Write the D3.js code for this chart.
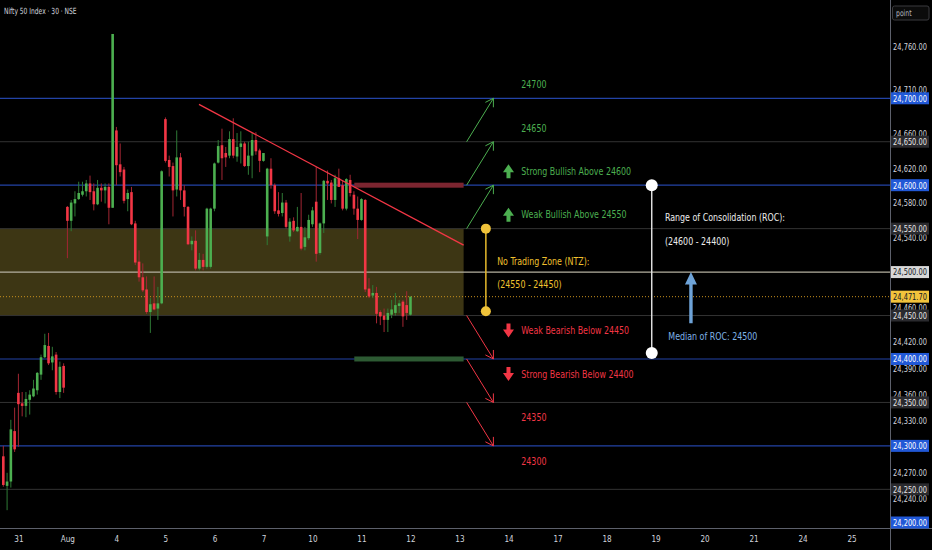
<!DOCTYPE html>
<html>
<head>
<meta charset="utf-8">
<script src="https://cdn.jsdelivr.net/npm/d3@7"></script>
<style>
  html, body { margin: 0; padding: 0; background: #000; overflow: hidden; }
  svg { display: block; }
  text { font-family: "Liberation Sans Narrow", "DejaVu Sans Condensed", "Roboto Condensed", "Arial Narrow", "Liberation Sans", sans-serif; }
</style>
</head>
<body>
<div id="chart"></div>
<script>
// 30 min bars, Jul 30 (last bars) .. Aug 11
var opens  = [24288,24254,24259,24317,24361,24349,24346,24353,24357,24364,24382,24402,24415,24396,24405,24362,24392,
              24575,24559,24579,24584,24589,24593,24602,24593,24578,24597,24594,24598,
              24574,24663,24624,24618,24584,24592,24556,24512,24494,24480,24454,24464,24458,
              24464,24676,24629,24622,24595,24632,24594,24575,24532,24536,24504,24514,24506,
              24506,24573,24626,24646,24637,24634,24653,24633,24644,24648,24622,24634,24652,24640,24628,
              24541,24619,24600,24571,24568,24580,24541,24559,24547,24552,24529,24539,24555,
              24581,24522,24556,24605,24603,24583,24608,24600,24573,24606,24589,24573,24560,
              24583,24481,24473,24476,24454,24450,24445,24451,24453,24461,24466,24462,24451];
var highs  = [24300,24269,24330,24344,24383,24362,24362,24364,24376,24385,24405,24429,24430,24414,24408,24397,24395,
              24576,24583,24593,24604,24604,24606,24611,24602,24606,24602,24602,24602,
              24774,24667,24648,24621,24595,24598,24559,24525,24510,24495,24470,24495,24483,
              24617,24678,24634,24626,24663,24637,24600,24576,24541,24548,24522,24521,24574,
              24574,24626,24652,24665,24644,24662,24677,24660,24662,24650,24650,24660,24661,24642,24637,
              24620,24631,24602,24592,24591,24583,24562,24563,24575,24591,24552,24566,24575,
              24621,24557,24606,24617,24606,24612,24619,24606,24608,24612,24593,24587,24585,
              24584,24493,24485,24483,24456,24458,24458,24468,24476,24468,24468,24478,24472];
var lows   = [24253,24226,24252,24293,24299,24334,24333,24336,24356,24359,24376,24401,24393,24387,24359,24355,24361,
              24516,24547,24564,24583,24587,24587,24583,24571,24577,24581,24579,24555,
              24574,24600,24610,24579,24570,24554,24508,24489,24477,24452,24430,24456,24445,
              24463,24626,24610,24564,24587,24583,24564,24531,24525,24502,24502,24502,24504,
              24504,24570,24625,24606,24621,24631,24631,24627,24625,24621,24612,24608,24635,24615,24627,
              24531,24596,24567,24564,24564,24550,24535,24546,24546,24525,24525,24537,24552,
              24512,24520,24545,24583,24579,24575,24598,24571,24571,24587,24566,24538,24559,
              24477,24470,24470,24441,24439,24431,24431,24447,24450,24453,24437,24445,24450];
var closes = [24255,24259,24319,24296,24348,24346,24354,24359,24366,24384,24402,24416,24395,24403,24362,24391,24367,
              24559,24580,24584,24591,24593,24602,24592,24578,24597,24594,24598,24574,
              24774,24623,24615,24582,24591,24555,24511,24494,24479,24454,24463,24457,24464,
              24616,24628,24621,24594,24632,24594,24575,24532,24536,24504,24514,24506,24573,
              24573,24625,24645,24631,24632,24653,24634,24644,24648,24622,24634,24652,24639,24628,24637,
              24619,24600,24570,24567,24580,24552,24558,24548,24552,24527,24540,24560,24571,
              24521,24556,24605,24602,24583,24608,24598,24573,24607,24591,24573,24560,24584,
              24480,24472,24476,24452,24449,24445,24453,24457,24462,24464,24449,24453,24471.7];

var dayLabels   = ["31", "Aug", "4", "5", "6", "7", "10", "11", "12", "13", "14", "17", "18", "19", "20", "21", "24", "25"];
var dayTickBars = [4, 17, 30, 43, 56, 69, 82, 95, 108, 121, 134, 147, 160, 173, 186, 199, 212, 225];

var priceTicks  = [24760, 24710, 24660, 24620, 24580, 24540, 24460, 24420, 24390, 24360, 24330, 24270, 24240];
var blueLevels  = [24700, 24600, 24400, 24300, 24200];
var grayLevels  = [24650, 24550, 24450, 24350, 24250];
var medianLevel = 24500;
var lastPrice   = 24471.7;

var trendLine   = [[51.9, 24693], [122.1, 24531]];

var bullLevels  = [24550, 24600, 24650, 24700];
var bullTexts   = ["Weak Bullish Above 24550", "Strong Bullish Above 24600", "24650", "24700"];
var bearLevels  = [24450, 24400, 24350, 24300];
var bearTexts   = ["Weak Bearish Below 24450", "Strong Bearish Below 24400", "24350", "24300"];

var ntzRange    = [24550, 24450];
var ntzTexts    = ["No Trading Zone (NTZ):", "(24550 - 24450)"];
var rocRange    = [24600, 24400];
var rocTexts    = ["Range of Consolidation (ROC):", "(24600 - 24400)"];
var medianText  = "Median of ROC: 24500";

var svgWidth = 932, svgHeight = 550;
var plotW = 890, plotH = 528;

var x = d3.scaleLinear().domain([-0.88, 235.2]).range([0, plotW]);
var y = d3.scaleLinear().domain([24205.5, 24813.1]).range([plotH, 0]);
var fmt = d3.format(",.2f");

var green = "#4caf50", red = "#f23645";

var svg = d3.select("#chart")
  .append("svg")
  .attr("width", svgWidth)
  .attr("height", svgHeight);

svg.append("rect").attr("width", svgWidth).attr("height", svgHeight).attr("fill", "#000");

svg.append("defs").append("clipPath").attr("id", "plot")
  .append("rect").attr("width", plotW).attr("height", plotH);

var plot = svg.append("g").attr("clip-path", "url(#plot)");

// narrow text helper (the screenshot font is condensed)
function label(parent, px, py, str, size, color, anchor, sx) {
  return parent.append("text")
    .attr("transform", `translate(${px},${py}) scale(${sx},1)`)
    .attr("text-anchor", anchor || "start")
    .attr("dominant-baseline", "central")
    .attr("font-size", size + "px")
    .attr("fill", color)
    .text(str);
}

// No trading zone box
plot.append("rect")
  .attr("x", x(-0.88))
  .attr("width", x(122.1) - x(-0.88))
  .attr("y", y(ntzRange[0]))
  .attr("height", y(ntzRange[1]) - y(ntzRange[0]))
  .attr("fill", "#3d3614");

// Horizontal levels
plot.selectAll(".gray").data(grayLevels).enter().append("line")
  .attr("x1", 0).attr("x2", plotW)
  .attr("y1", d => y(d)).attr("y2", d => y(d))
  .attr("stroke", "#333").attr("stroke-width", 1);

plot.selectAll(".blue").data(blueLevels).enter().append("line")
  .attr("x1", 0).attr("x2", plotW)
  .attr("y1", d => y(d)).attr("y2", d => y(d))
  .attr("stroke", "#2343a6").attr("stroke-width", 1.2);

plot.append("line")
  .attr("x1", 0).attr("x2", plotW)
  .attr("y1", y(medianLevel)).attr("y2", y(medianLevel))
  .attr("stroke", "#b4b0a0").attr("stroke-width", 1.2);

plot.append("line")
  .attr("x1", 0).attr("x2", plotW)
  .attr("y1", y(lastPrice)).attr("y2", y(lastPrice))
  .attr("stroke", "#c8901e").attr("stroke-width", 1)
  .attr("stroke-dasharray", "1,2");

// Resistance / support strips
plot.append("rect")
  .attr("x", x(93.1)).attr("width", x(122.1) - x(93.1))
  .attr("y", y(24600) - 2.5).attr("height", 5)
  .attr("fill", "#7c2530");
plot.append("rect")
  .attr("x", x(93.1)).attr("width", x(122.1) - x(93.1))
  .attr("y", y(24400) - 2.5).attr("height", 5)
  .attr("fill", "#2d5a33");

// Candles
var bars = d3.range(opens.length);
plot.selectAll(".wick").data(bars).enter().append("line")
  .attr("x1", i => x(i)).attr("x2", i => x(i))
  .attr("y1", i => y(highs[i])).attr("y2", i => y(lows[i]))
  .attr("stroke", i => closes[i] >= opens[i] ? "#2f7a36" : "#a32633")
  .attr("stroke-width", 1);

plot.selectAll(".body").data(bars).enter().append("rect")
  .attr("x", i => x(i) - 1.3)
  .attr("width", 2.6)
  .attr("y", i => y(Math.max(opens[i], closes[i])))
  .attr("height", i => Math.max(1, Math.abs(y(opens[i]) - y(closes[i]))))
  .attr("fill", i => closes[i] >= opens[i] ? green : red);

// Trend line
plot.append("line")
  .attr("x1", x(trendLine[0][0])).attr("y1", y(trendLine[0][1]))
  .attr("x2", x(trendLine[1][0])).attr("y2", y(trendLine[1][1]))
  .attr("stroke", red).attr("stroke-width", 1.3);

// Diagonal target arrows
function arrow(g, fromLvl, toLvl, color) {
  var x1 = x(122.9), y1 = y(fromLvl), x2 = x(130), y2 = y(toLvl);
  var a = Math.atan2(y1 - y2, x1 - x2);
  g.append("line").attr("x1", x1).attr("y1", y1).attr("x2", x2).attr("y2", y2)
    .attr("stroke", color).attr("stroke-width", 1);
  [-0.55, 0.55].forEach(function(da) {
    g.append("line").attr("x1", x2).attr("y1", y2)
      .attr("x2", x2 + 9 * Math.cos(a + da)).attr("y2", y2 + 9 * Math.sin(a + da))
      .attr("stroke", color).attr("stroke-width", 1);
  });
}
for (var k = 0; k < 3; k++) {
  arrow(plot, bullLevels[k], bullLevels[k + 1], green);
  arrow(plot, bearLevels[k], bearLevels[k + 1], red);
}

// Level texts
var textX = x(137.4);
bullLevels.forEach(function(lvl, k) {
  label(plot, textX, y(lvl) - 14, bullTexts[k], 11, green, "start", 0.8);
});
bearLevels.forEach(function(lvl, k) {
  label(plot, textX, y(lvl) + 15, bearTexts[k], 11, red, "start", 0.8);
});

// Small filled up / down icons
var iconX = x(134);
[0, 1].forEach(function(k) {
  var cy = y(bullLevels[k]) - 14;
  plot.append("path")
    .attr("d", `M${iconX - 5.5},${cy + 1} L${iconX},${cy - 7} L${iconX + 5.5},${cy + 1} L${iconX + 2},${cy + 1} L${iconX + 2},${cy + 7} L${iconX - 2},${cy + 7} L${iconX - 2},${cy + 1} Z`)
    .attr("fill", green);
  var cb = y(bearLevels[k]) + 15;
  plot.append("path")
    .attr("d", `M${iconX - 5.5},${cb - 1} L${iconX},${cb + 7} L${iconX + 5.5},${cb - 1} L${iconX + 2},${cb - 1} L${iconX + 2},${cb - 7} L${iconX - 2},${cb - 7} L${iconX - 2},${cb - 1} Z`)
    .attr("fill", red);
});

// NTZ marker
var ntzX = x(128);
plot.append("line").attr("x1", ntzX).attr("x2", ntzX)
  .attr("y1", y(ntzRange[0])).attr("y2", y(ntzRange[1] + 5))
  .attr("stroke", "#e6b92c").attr("stroke-width", 1.5);
[ntzRange[0], ntzRange[1] + 5].forEach(function(p) {
  plot.append("circle").attr("cx", ntzX).attr("cy", y(p)).attr("r", 5).attr("fill", "#f0c33a");
});
ntzTexts.forEach(function(t, k) {
  label(plot, x(131), y(ntzRange[0]) + 32.5 + k * 23.5, t, 11, "#f0c02e", "start", 0.8);
});

// ROC marker
var rocX = x(172);
plot.append("line").attr("x1", rocX).attr("x2", rocX)
  .attr("y1", y(rocRange[0])).attr("y2", y(rocRange[1] + 7))
  .attr("stroke", "#e8e8e8").attr("stroke-width", 1.4);
[rocRange[0], rocRange[1] + 7].forEach(function(p) {
  plot.append("circle").attr("cx", rocX).attr("cy", y(p)).attr("r", 6).attr("fill", "#fff");
});
rocTexts.forEach(function(t, k) {
  label(plot, x(175.5), y(rocRange[0]) + 31.5 + k * 24, t, 11, "#ececec", "start", 0.8);
});

// Median arrow
var mx = x(182.4), tip = y(medianLevel), tail = y(24441);
plot.append("path")
  .attr("d", `M${mx},${tip} L${mx + 6},${tip + 12.5} L${mx + 1.7},${tip + 12.5} L${mx + 1.7},${tail} L${mx - 1.7},${tail} L${mx - 1.7},${tip + 12.5} L${mx - 6},${tip + 12.5} Z`)
  .attr("fill", "#6ea3d8");
label(plot, x(176.4), y(24426.8), medianText, 11, "#7fb2e6", "start", 0.8);

// Title
label(svg, 4, 11, "Nifty 50 Index · 30 · NSE", 8.5, "#d1d4dc", "start", 0.78);

// Axes separators
svg.append("line").attr("x1", plotW + 0.5).attr("x2", plotW + 0.5).attr("y1", 0).attr("y2", svgHeight)
  .attr("stroke", "#5d606b");
svg.append("line").attr("x1", 0).attr("x2", svgWidth).attr("y1", plotH + 0.5).attr("y2", plotH + 0.5)
  .attr("stroke", "#5d606b");

// Price axis
var rightAxis = d3.axisRight(y).tickValues(priceTicks).tickSize(0).tickFormat(fmt);
var ya = svg.append("g").attr("transform", `translate(${plotW}, 0)`).call(rightAxis);
ya.select(".domain").remove();
ya.selectAll("text")
  .attr("x", 0).attr("dy", null)
  .attr("transform", "translate(20,0) scale(0.78,1)")
  .attr("text-anchor", "middle")
  .attr("dominant-baseline", "central")
  .attr("font-size", "9.5px").attr("fill", "#d1d4dc")
  .style("font-family", null);

// Highlighted price labels
function priceBox(p, bg, fg) {
  var cy = Math.min(y(p), plotH - 5.5);
  svg.append("rect").attr("x", plotW + 1).attr("width", 38).attr("y", cy - 6).attr("height", 12).attr("fill", bg);
  label(svg, plotW + 20, cy, fmt(p), 9.5, fg, "middle", 0.78);
}
grayLevels.forEach(p => priceBox(p, "#2a2a2e", "#e6e6e6"));
priceBox(medianLevel, "#d8d8d8", "#131722");
priceBox(lastPrice, "#f2c33c", "#131722");
blueLevels.forEach(p => priceBox(p, "#2158d6", "#ffffff"));

// "point" button
svg.append("rect").attr("x", 892.5).attr("y", 6).attr("width", 36.5).attr("height", 14).attr("rx", 2)
  .attr("fill", "#0b0b0b").attr("stroke", "#3a3a3e");
label(svg, 896, 13, "point", 8.5, "#b2b5be", "start", 0.8);

// Time axis
var bottomAxis = d3.axisBottom(x).tickValues(dayTickBars).tickSize(0)
  .tickFormat((d, k) => dayLabels[k]);
var xa = svg.append("g").attr("transform", `translate(0, ${plotH})`).call(bottomAxis);
xa.select(".domain").remove();
xa.selectAll("text")
  .attr("y", 0).attr("dy", null)
  .attr("transform", "translate(0,11) scale(0.85,1)")
  .attr("dominant-baseline", "central")
  .attr("font-size", "9.5px").attr("fill", "#d1d4dc")
  .style("font-family", null);
</script>
</body>
</html>
